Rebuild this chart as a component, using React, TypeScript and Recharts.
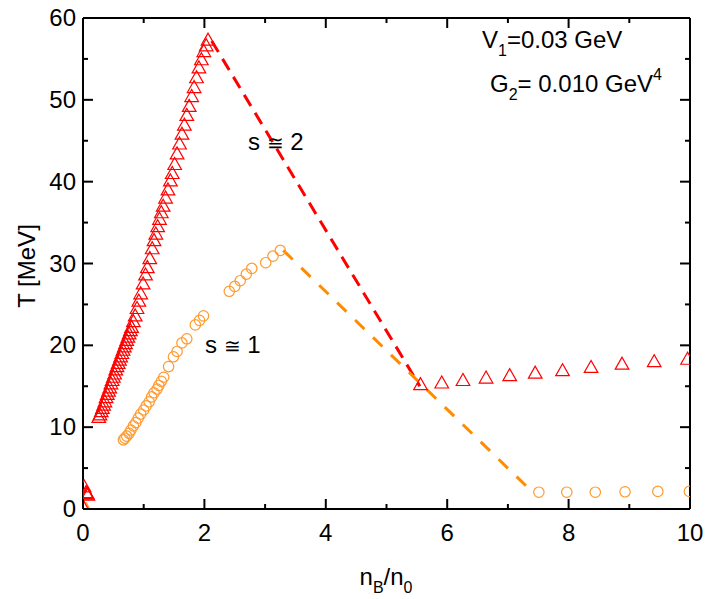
// @ts-nocheck
import React from 'react';
import { ComposedChart, Line, Scatter, XAxis, YAxis } from 'recharts';

// red triangles (s ~ 2 branch)
const triNearZero = [[0.02, 2.7], [0.05, 2.0], [0.06, 1.9], [0.07, 1.8], [0.08, 1.7]];
const triRise = [
  [0.26, 11.2], [0.28, 11.5], [0.3, 11.9], [0.32, 12.3], [0.34, 12.7], [0.36, 13.1], [0.38, 13.6], [0.4, 14.0],
  [0.42, 14.4], [0.44, 14.8], [0.46, 15.3], [0.48, 15.7], [0.5, 16.1], [0.52, 16.5], [0.54, 17.0], [0.56, 17.4],
  [0.58, 17.8], [0.6, 18.2], [0.62, 18.6], [0.64, 19.0], [0.66, 19.4], [0.68, 19.8], [0.7, 20.2], [0.72, 20.6],
  [0.74, 21.0], [0.76, 21.4], [0.78, 21.8], [0.8, 22.2], [0.83, 22.9],
  [0.86, 23.6], [0.89, 24.5], [0.92, 25.4], [0.95, 26.3], [0.99, 27.5], [1.03, 28.6], [1.06, 29.5], [1.1, 30.6],
  [1.14, 31.8], [1.17, 32.8], [1.2, 33.6], [1.23, 34.5], [1.26, 35.4], [1.29, 36.2], [1.32, 37.0], [1.36, 38.0],
  [1.4, 39.0], [1.44, 40.1],
  [1.47, 41.0], [1.51, 42.1], [1.55, 43.4], [1.59, 44.6], [1.63, 45.8], [1.67, 46.9], [1.71, 48.1], [1.75, 49.2],
  [1.79, 50.4], [1.83, 51.5], [1.87, 52.7], [1.91, 53.9], [1.95, 54.9], [1.99, 55.9], [2.03, 56.6], [2.06, 57.3],
];
const triFlat = [
  [5.56, 15.2], [5.91, 15.4], [6.26, 15.7], [6.64, 16.0], [7.03, 16.3], [7.45, 16.6],
  [7.9, 16.9], [8.37, 17.3], [8.88, 17.7], [9.41, 18.0], [9.96, 18.3],
];

// orange circles (s ~ 1 branch)
const circRise = [
  [0.665, 8.45], [0.69, 8.65], [0.72, 8.9], [0.76, 9.25], [0.79, 9.65], [0.83, 10.15], [0.87, 10.55], [0.91, 11.1],
  [0.95, 11.6], [1.0, 12.1], [1.04, 12.6], [1.09, 13.1], [1.13, 13.7], [1.17, 14.2], [1.22, 14.65], [1.25, 15.1],
  [1.29, 15.6], [1.33, 16.1], [1.41, 17.4], [1.49, 18.6], [1.55, 19.25], [1.63, 20.3], [1.71, 20.8], [1.85, 22.5],
  [1.92, 23.05], [1.985, 23.6],
  [2.41, 26.6], [2.5, 27.2], [2.59, 27.9], [2.69, 28.7], [2.78, 29.4], [3.01, 30.1], [3.13, 30.9], [3.25, 31.6],
];
const circFlat = [[7.51, 2.05], [7.97, 2.05], [8.44, 2.05], [8.93, 2.1], [9.47, 2.15], [9.99, 2.15]];

// dashed connectors
const redDash = [[2.12, 57.2], [5.55, 15.0]];
const orangeDash = [[3.3, 31.6], [7.4, 2.1]];
const redTail = [[0.01, 1.0], [0.09, 0]];
const orangeTail = [[0.05, 0.8], [0.1, 0.1]];

const xTicks = [0, 1, 2, 3, 4, 5, 6, 7, 8, 9, 10];
const yTicks = [0, 5, 10, 15, 20, 25, 30, 35, 40, 45, 50, 55, 60];

const pts = (arr) => arr.map(([x, y]) => ({ x, y }));

const RED = '#ff0000';
const ORANGE = '#ff9a2e';
const ORANGE_DASH = '#ff8c00';
const FONT = '"Liberation Sans", Arial, sans-serif';

const Triangle = ({ cx, cy }) => (
  <polygon
    points={`${cx},${cy - 7} ${cx - 6.8},${cy + 5} ${cx + 6.8},${cy + 5}`}
    fill="none"
    stroke={RED}
    strokeWidth={1.2}
  />
);
const Circle = ({ cx, cy }) => <circle cx={cx} cy={cy} r={5.2} fill="none" stroke={ORANGE} strokeWidth={1.2} />;

const BottomTick = ({ x, y, payload }) => {
  const major = payload.value % 2 === 0;
  return (
    <g>
      <line x1={x} x2={x} y1={y} y2={y - (major ? 10 : 5)} stroke="#000" strokeWidth={2} />
      {major && (
        <text x={x} y={y + 32} textAnchor="middle" fontSize={24} fontFamily={FONT} fill="#000">
          {payload.value}
        </text>
      )}
    </g>
  );
};
const TopTick = ({ x, y, payload }) => {
  const major = payload.value % 2 === 0;
  return <line x1={x} x2={x} y1={y} y2={y + (major ? 10 : 5)} stroke="#000" strokeWidth={2} />;
};
const LeftTick = ({ x, y, payload }) => {
  const major = payload.value % 10 === 0;
  return (
    <g>
      <line x1={x} x2={x + (major ? 10 : 5)} y1={y} y2={y} stroke="#000" strokeWidth={2} />
      {major && (
        <text x={x - 7} y={y + 8} textAnchor="end" fontSize={24} fontFamily={FONT} fill="#000">
          {payload.value}
        </text>
      )}
    </g>
  );
};
const RightTick = ({ x, y, payload }) => {
  const major = payload.value % 10 === 0;
  return <line x1={x} x2={x - (major ? 10 : 5)} y1={y} y2={y} stroke="#000" strokeWidth={2} />;
};

const axisLine = { stroke: '#000', strokeWidth: 2 };

export default function App() {
  return (
    <div style={{ position: 'absolute', left: 0, top: 0, width: 706, height: 599, background: '#fff' }}>
      <ComposedChart width={706} height={599} margin={{ top: 18, right: 16, left: 0, bottom: 0 }}>
        <XAxis
          dataKey="x"
          type="number"
          domain={[0, 10]}
          ticks={xTicks}
          interval={0}
          height={90}
          tickSize={0}
          tickMargin={0}
          tickLine={false}
          axisLine={axisLine}
          tick={<BottomTick />}
          allowDataOverflow
        />
        <XAxis
          xAxisId="top"
          dataKey="x"
          orientation="top"
          type="number"
          domain={[0, 10]}
          ticks={xTicks}
          interval={0}
          height={1}
          mirror
          tickSize={0}
          tickMargin={0}
          tickLine={false}
          axisLine={axisLine}
          tick={<TopTick />}
          allowDataOverflow
        />
        <YAxis
          dataKey="y"
          type="number"
          domain={[0, 60]}
          ticks={yTicks}
          interval={0}
          width={83}
          tickSize={0}
          tickMargin={0}
          tickLine={false}
          axisLine={axisLine}
          tick={<LeftTick />}
          allowDataOverflow
        />
        <YAxis
          yAxisId="right"
          dataKey="y"
          orientation="right"
          type="number"
          domain={[0, 60]}
          ticks={yTicks}
          interval={0}
          width={1}
          mirror
          tickSize={0}
          tickMargin={0}
          tickLine={false}
          axisLine={axisLine}
          tick={<RightTick />}
          allowDataOverflow
        />
        {/* invisible series so the mirrored frame axes get drawn */}
        <Line
          xAxisId="top"
          yAxisId="right"
          data={pts(redDash)}
          dataKey="y"
          stroke="none"
          dot={false}
          activeDot={false}
          legendType="none"
          isAnimationActive={false}
        />
        <Line data={pts(redDash)} dataKey="y" stroke={RED} strokeWidth={3} strokeDasharray="13 8" dot={false} isAnimationActive={false} />
        <Line data={pts(orangeDash)} dataKey="y" stroke={ORANGE_DASH} strokeWidth={3} strokeDasharray="13 12" dot={false} isAnimationActive={false} />
        <Line data={pts(redTail)} dataKey="y" stroke={RED} strokeWidth={1.5} dot={false} isAnimationActive={false} />
        <Line data={pts(orangeTail)} dataKey="y" stroke={ORANGE} strokeWidth={1.5} dot={false} isAnimationActive={false} />
        <Scatter data={pts(triNearZero)} dataKey="y" shape={<Triangle />} isAnimationActive={false} />
        <Scatter data={pts(triRise)} dataKey="y" shape={<Triangle />} isAnimationActive={false} />
        <Scatter data={pts(triFlat)} dataKey="y" shape={<Triangle />} isAnimationActive={false} />
        <Scatter data={pts(circRise)} dataKey="y" shape={<Circle />} isAnimationActive={false} />
        <Scatter data={pts(circFlat)} dataKey="y" shape={<Circle />} isAnimationActive={false} />
      </ComposedChart>
      <svg width={706} height={599} style={{ position: 'absolute', left: 0, top: 0, pointerEvents: 'none' }} fontFamily={FONT} fill="#000">
        <text x={482} y={48} fontSize={24}>
          V<tspan fontSize={16} dy={8}>1</tspan>
          <tspan dy={-8}>=0.03 GeV</tspan>
        </text>
        <text x={490} y={92} fontSize={24}>
          G<tspan fontSize={16} dy={8}>2</tspan>
          <tspan dy={-8}>= 0.010 GeV</tspan>
          <tspan fontSize={16} dy={-12}>4</tspan>
        </text>
        <text x={248} y={150} fontSize={24}>
          s <tspan fontSize={20}>≅</tspan> 2
        </text>
        <text x={205} y={353} fontSize={24}>
          s <tspan fontSize={20}>≅</tspan> 1
        </text>
        <text x={386} y={585} fontSize={24} textAnchor="middle">
          n<tspan fontSize={16} dy={8}>B</tspan>
          <tspan dy={-8}>/n</tspan>
          <tspan fontSize={16} dy={8}>0</tspan>
        </text>
        <text x={0} y={0} fontSize={24} textAnchor="middle" transform="translate(35,266) rotate(-90)">
          T [MeV]
        </text>
      </svg>
    </div>
  );
}
